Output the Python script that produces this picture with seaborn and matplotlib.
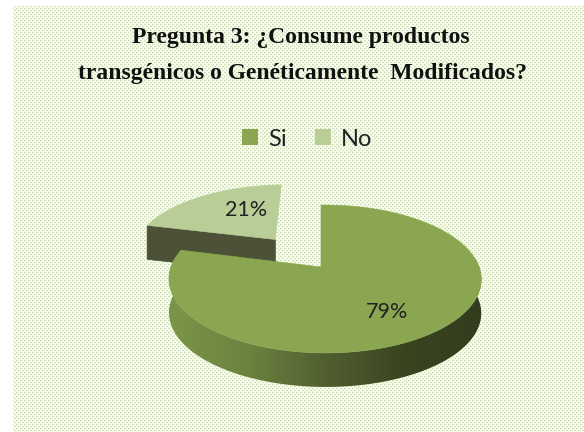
import numpy as np
import matplotlib
matplotlib.use("Agg")
import matplotlib.pyplot as plt
from matplotlib.patches import Polygon, PathPatch, Patch
from matplotlib.path import Path
import seaborn as sns

# data
categories = ["Si", "No"]
values = [79, 21]
explode = [0, 0.52]
title_lines = ["Pregunta 3: ¿Consume productos", "transgénicos o Genéticamente  Modificados?"]

top_colors = ["#8aa650", "#b9cd96"]
wall_colors = ["#7b9548", "#6c8340", "#515f30", "#3a4420", "#333c1e"]
cut_color = "#4c5138"

sns.set_theme(style="white")

W, H = 584, 432
fig = plt.figure(figsize=(W / 100, H / 100), dpi=100)
ax = fig.add_axes([0, 0, 1, 1])
ax.set_xlim(0, W)
ax.set_ylim(H, 0)
ax.axis("off")

# dotted background
bg = np.ones((H, W, 3))
yy, xx = np.mgrid[0:H, 0:W]
dots = (xx + 2 * (yy // 2)) % 4 < 2
dots = dots & (yy % 2 == 0)
soft = (xx % 2 == 0) & (yy % 2 == 1)
bg[dots] = matplotlib.colors.to_rgb("#d0e2ae")
bg[soft] = matplotlib.colors.to_rgb("#e9f0da")
bg[:6, :] = 1
bg[:, :13] = 1
ax.imshow(bg, interpolation="nearest", extent=(0, W, H, 0), zorder=0, aspect="auto")
ax.set_xlim(0, W)
ax.set_ylim(H, 0)

# perspective of the pie plane, disc coordinates -> pixels
cx, cy = 321, 267
A, B, p, q = 72, 154, 0.162, -0.026
depth = 34


def project(u, v):
    d = 1 + p * v + q * u
    return cx + B * u / d, cy - A * v / d


def slice_outline(start, frac, off):
    # clockwise from start (fraction of a turn, 0 = 12 o'clock)
    mid = start + frac / 2
    ox = off * np.sin(2 * np.pi * mid)
    oy = off * np.cos(2 * np.pi * mid)
    t = 2 * np.pi * np.linspace(start, start + frac, 240)
    return t, np.sin(t) + ox, np.cos(t) + oy, ox, oy


wall_cmap = sns.blend_palette(wall_colors, as_cmap=True)
total = sum(values)
fracs = [v / total for v in values]

starts = np.cumsum([0] + fracs[:-1])
# the small slice sits behind, so it goes first
for i in [1, 0]:
    t, u, v, ox, oy = slice_outline(starts[i], fracs[i], explode[i])
    x, y = project(u, v)
    ax0, ay0 = project(ox, oy)
    z = 2 + (0 if i == 1 else 3)
    if i == 0:
        # outer wall, only the part that faces the viewer
        keep = np.cos(t) < 0.12
        xk, yk = x[keep], y[keep]
        wall = np.column_stack([np.r_[xk, xk[::-1]], np.r_[yk, yk[::-1] + depth]])
        im = ax.imshow(np.linspace(0, 1, 256)[None, :], cmap=wall_cmap,
                       extent=(xk.min(), xk.max(), H, 0), aspect="auto", zorder=z)
        patch = PathPatch(Path(np.r_[wall, wall[:1]]), transform=ax.transData, fc="none", ec="none")
        ax.add_patch(patch)
        im.set_clip_path(patch)
    else:
        # cut face shows on the exploded slice, from its outer end to the apex
        quad = [(x[0], y[0]), (ax0, ay0), (ax0, ay0 + depth), (x[0], y[0] + depth)]
        ax.add_patch(Polygon(quad, closed=True, fc=cut_color, ec=cut_color, lw=0.5, zorder=z))
    pts = np.column_stack([np.r_[ax0, x], np.r_[ay0, y]])
    ax.add_patch(Polygon(pts, closed=True, fc=top_colors[i], ec=top_colors[i], lw=0.4, zorder=z + 1))

ax.set_xlim(0, W)
ax.set_ylim(H, 0)

# percent labels
ax.text(387, 312, f"{values[0]}%", ha="center", va="center", fontsize=15.5, family="Lato", color="#222222", zorder=8)
ax.text(246, 210, f"{values[1]}%", ha="center", va="center", fontsize=15.5, family="Lato", color="#222222", zorder=8)

# title
ax.text(301, 37, title_lines[0], ha="center", va="center", fontsize=17, fontweight="bold",
        family="Liberation Serif", color="#111111", zorder=8)
ax.text(302, 74, title_lines[1], ha="center", va="center", fontsize=17, fontweight="bold",
        family="Liberation Serif", color="#111111", zorder=8)

# legend
handles = [Patch(fc=top_colors[0], ec="none"), Patch(fc=top_colors[1], ec="none")]
ax.legend(handles, categories, ncol=2, frameon=False, loc="center",
          bbox_to_anchor=(307 / W, 1 - 139 / H), prop={"family": "Lato", "size": 17},
          handlelength=0.68, handleheight=0.68, handletextpad=0.42, columnspacing=1.2,
          labelcolor="#222222")

fig.savefig("out.png", dpi=100)
